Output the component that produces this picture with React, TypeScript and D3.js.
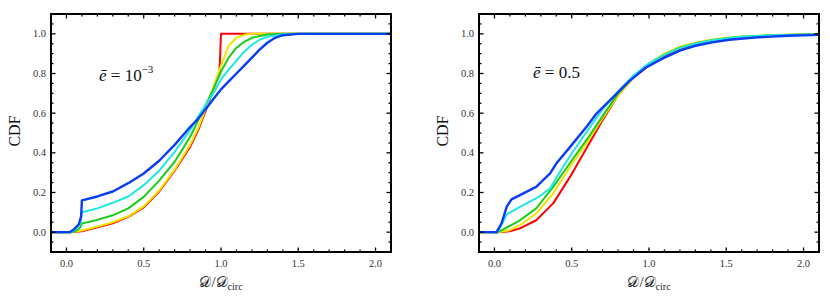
import React from "react";
import * as d3 from "d3";

type Pt = [number, number];

const xMajorTicks = [0, 0.5, 1.0, 1.5, 2.0];
const yMajorTicks = [0, 0.2, 0.4, 0.6, 0.8, 1.0];
const seriesColors = ["#ff0000", "#f2e200", "#19cc19", "#1ee6e6", "#0a3cf5"];
const panelLabels = ["10", "0.5"];

const leftRed: Pt[] = [[-0.1,0],[0.02,0],[0.1,0.005],[0.2,0.025],[0.3,0.045],[0.4,0.077],[0.5,0.125],[0.6,0.205],[0.7,0.31],[0.8,0.43],[0.85,0.51],[0.9,0.61],[0.95,0.72],[0.99,0.8],[1.0,1.0],[2.1,1.0]];
const leftYellow: Pt[] = [[-0.1,0],[0.02,0],[0.1,0.008],[0.2,0.028],[0.3,0.05],[0.4,0.08],[0.5,0.13],[0.6,0.21],[0.7,0.315],[0.8,0.44],[0.85,0.52],[0.9,0.62],[0.95,0.73],[1.0,0.84],[1.05,0.94],[1.1,0.98],[1.15,0.995],[1.2,1],[2.1,1]];
const leftGreen: Pt[] = [[-0.1,0],[0.04,0],[0.07,0.01],[0.09,0.025],[0.1,0.044],[0.2,0.062],[0.3,0.085],[0.4,0.12],[0.5,0.178],[0.6,0.26],[0.7,0.355],[0.8,0.48],[0.85,0.56],[0.9,0.64],[0.95,0.72],[1.0,0.81],[1.05,0.88],[1.1,0.93],[1.15,0.96],[1.2,0.98],[1.3,0.997],[1.4,1],[2.1,1]];
const leftCyan: Pt[] = [[-0.1,0],[0.03,0],[0.06,0.015],[0.09,0.045],[0.1,0.1],[0.2,0.12],[0.3,0.148],[0.4,0.18],[0.5,0.237],[0.6,0.31],[0.7,0.405],[0.8,0.515],[0.85,0.58],[0.9,0.64],[0.95,0.7],[1.0,0.77],[1.05,0.82],[1.1,0.865],[1.15,0.91],[1.2,0.945],[1.25,0.97],[1.3,0.985],[1.4,0.998],[1.5,1],[2.1,1]];
const leftBlue: Pt[] = [[-0.1,0],[0.02,0],[0.05,0.015],[0.08,0.04],[0.095,0.08],[0.1,0.16],[0.2,0.18],[0.3,0.205],[0.4,0.247],[0.5,0.296],[0.6,0.36],[0.7,0.44],[0.8,0.53],[0.85,0.57],[0.9,0.62],[0.95,0.67],[1.0,0.72],[1.05,0.76],[1.1,0.8],[1.15,0.84],[1.2,0.88],[1.25,0.92],[1.3,0.955],[1.35,0.98],[1.4,0.993],[1.5,1],[2.1,1]];

const rightRed: Pt[] = [[-0.1,0],[0.02,0],[0.1,0.005],[0.165,0.019],[0.27,0.06],[0.38,0.145],[0.49,0.28],[0.6,0.43],[0.7,0.565],[0.8,0.69],[0.9,0.78],[1.0,0.84],[1.1,0.885],[1.2,0.92],[1.3,0.945],[1.4,0.962],[1.5,0.975],[1.6,0.983],[1.8,0.992],[2.1,0.998]];
const rightYellow: Pt[] = [[-0.1,0],[0.02,0],[0.1,0.01],[0.165,0.035],[0.27,0.094],[0.38,0.195],[0.49,0.33],[0.6,0.455],[0.7,0.575],[0.8,0.69],[0.9,0.78],[1.0,0.85],[1.1,0.9],[1.2,0.935],[1.3,0.955],[1.4,0.97],[1.5,0.98],[1.6,0.987],[1.8,0.994],[2.1,1]];
const rightGreen: Pt[] = [[-0.1,0],[0.02,0],[0.06,0.015],[0.165,0.06],[0.27,0.12],[0.38,0.228],[0.49,0.35],[0.6,0.47],[0.7,0.585],[0.8,0.7],[0.9,0.785],[1.0,0.85],[1.1,0.895],[1.2,0.93],[1.3,0.952],[1.4,0.967],[1.5,0.978],[1.6,0.985],[1.8,0.993],[2.1,0.998]];
const rightCyan: Pt[] = [[-0.1,0],[0.02,0],[0.04,0.03],[0.08,0.09],[0.165,0.128],[0.27,0.17],[0.36,0.22],[0.42,0.3],[0.49,0.385],[0.6,0.51],[0.7,0.62],[0.8,0.71],[0.9,0.79],[1.0,0.85],[1.1,0.895],[1.2,0.928],[1.3,0.95],[1.4,0.966],[1.5,0.977],[1.6,0.985],[1.8,0.993],[2.1,0.998]];
const rightBlue: Pt[] = [[-0.1,0],[0.014,0],[0.046,0.044],[0.079,0.128],[0.11,0.165],[0.165,0.187],[0.27,0.228],[0.36,0.296],[0.4,0.346],[0.49,0.43],[0.6,0.535],[0.66,0.598],[0.77,0.682],[0.87,0.76],[0.98,0.83],[1.09,0.876],[1.2,0.915],[1.3,0.94],[1.41,0.957],[1.52,0.97],[1.7,0.982],[1.9,0.99],[2.1,0.995]];

const leftSeries = [leftRed, leftYellow, leftGreen, leftCyan, leftBlue];
const rightSeries = [rightRed, rightYellow, rightGreen, rightCyan, rightBlue];

const FONT = '"Liberation Serif", "Times New Roman", serif';

function Panel({ left, series, label, sup, id }: { left: number; series: Pt[][]; label: string; sup?: string; id: string }) {
  const top = 14, bottom = 252, width = 340;
  const x = d3.scaleLinear().domain([-0.1, 2.1]).range([left, left + width]);
  const y = d3.scaleLinear().domain([-0.1, 1.1]).range([bottom, top]);
  const line = d3.line<Pt>().x(d => x(d[0])).y(d => y(d[1]));
  const xMinor = d3.range(-0.1, 2.1001, 0.1).map(v => Math.round(v * 10) / 10);
  const yMinor = d3.range(-0.1, 1.1001, 0.05).map(v => Math.round(v * 100) / 100);
  const isMajorX = (v: number) => xMajorTicks.some(t => Math.abs(t - v) < 1e-6);
  const isMajorY = (v: number) => yMajorTicks.some(t => Math.abs(t - v) < 1e-6);
  const cx = left + width / 2;
  return (
    <g>
      <defs>
        <clipPath id={id}>
          <rect x={left} y={top} width={width} height={bottom - top} />
        </clipPath>
      </defs>
      <g clipPath={`url(#${id})`}>
        {series.map((s, i) => (
          <path key={i} d={line(s) || ""} fill="none" stroke={seriesColors[i]} strokeWidth={i === 4 ? 2.4 : 2} strokeLinejoin="round" />
        ))}
      </g>
      {xMinor.map(v => {
        const L = isMajorX(v) ? 4.5 : 2.5;
        return (
          <g key={"x" + v}>
            <line x1={x(v)} x2={x(v)} y1={bottom} y2={bottom - L} stroke="#000" strokeWidth={1.3} />
            <line x1={x(v)} x2={x(v)} y1={top} y2={top + L} stroke="#000" strokeWidth={1.3} />
          </g>
        );
      })}
      {yMinor.map(v => {
        const L = isMajorY(v) ? 4.5 : 2.5;
        return (
          <g key={"y" + v}>
            <line x1={left} x2={left + L} y1={y(v)} y2={y(v)} stroke="#000" strokeWidth={1.3} />
            <line x1={left + width} x2={left + width - L} y1={y(v)} y2={y(v)} stroke="#000" strokeWidth={1.3} />
          </g>
        );
      })}
      <rect x={left} y={top} width={width} height={bottom - top} fill="none" stroke="#000" strokeWidth={2} />
      {xMajorTicks.map(v => (
        <text key={"xl" + v} x={x(v)} y={267} textAnchor="middle" fontFamily={FONT} fontSize={10.5} fill="#333">{v.toFixed(1)}</text>
      ))}
      {yMajorTicks.map(v => (
        <text key={"yl" + v} x={left - 5} y={y(v) + 3.5} textAnchor="end" fontFamily={FONT} fontSize={10.5} fill="#333">{v.toFixed(1)}</text>
      ))}
      <text x={cx} y={287} textAnchor="middle" fontFamily={FONT} fontSize={15} fill="#222">
        <tspan>𝒟</tspan>/<tspan>𝒟</tspan><tspan fontSize={10} dy={3}>circ</tspan>
      </text>
      <text x={left - 31} y={(top + bottom) / 2 - 2} textAnchor="middle" fontFamily={FONT} fontSize={16} fill="#111" transform={`rotate(-90, ${left - 31}, ${(top + bottom) / 2 - 2})`}>CDF</text>
      <text x={left + (sup ? 48 : 54)} y={(sup ? 81 : 78)} fontFamily={FONT} fontSize={17} fill="#111">
        <tspan fontStyle="italic">ē</tspan> = {label}{sup ? <tspan fontSize={11} dy={-8}>{sup}</tspan> : null}
      </text>
    </g>
  );
}

export default function App() {
  return (
    <svg width={830} height={307} style={{ position: "absolute", left: 0, top: 0, background: "#fff" }}>
      <rect x={0} y={0} width={830} height={307} fill="#fff" />
      <Panel left={51} series={leftSeries} label={panelLabels[0]} sup="−3" id="clipL" />
      <Panel left={479} series={rightSeries} label={panelLabels[1]} id="clipR" />
    </svg>
  );
}
